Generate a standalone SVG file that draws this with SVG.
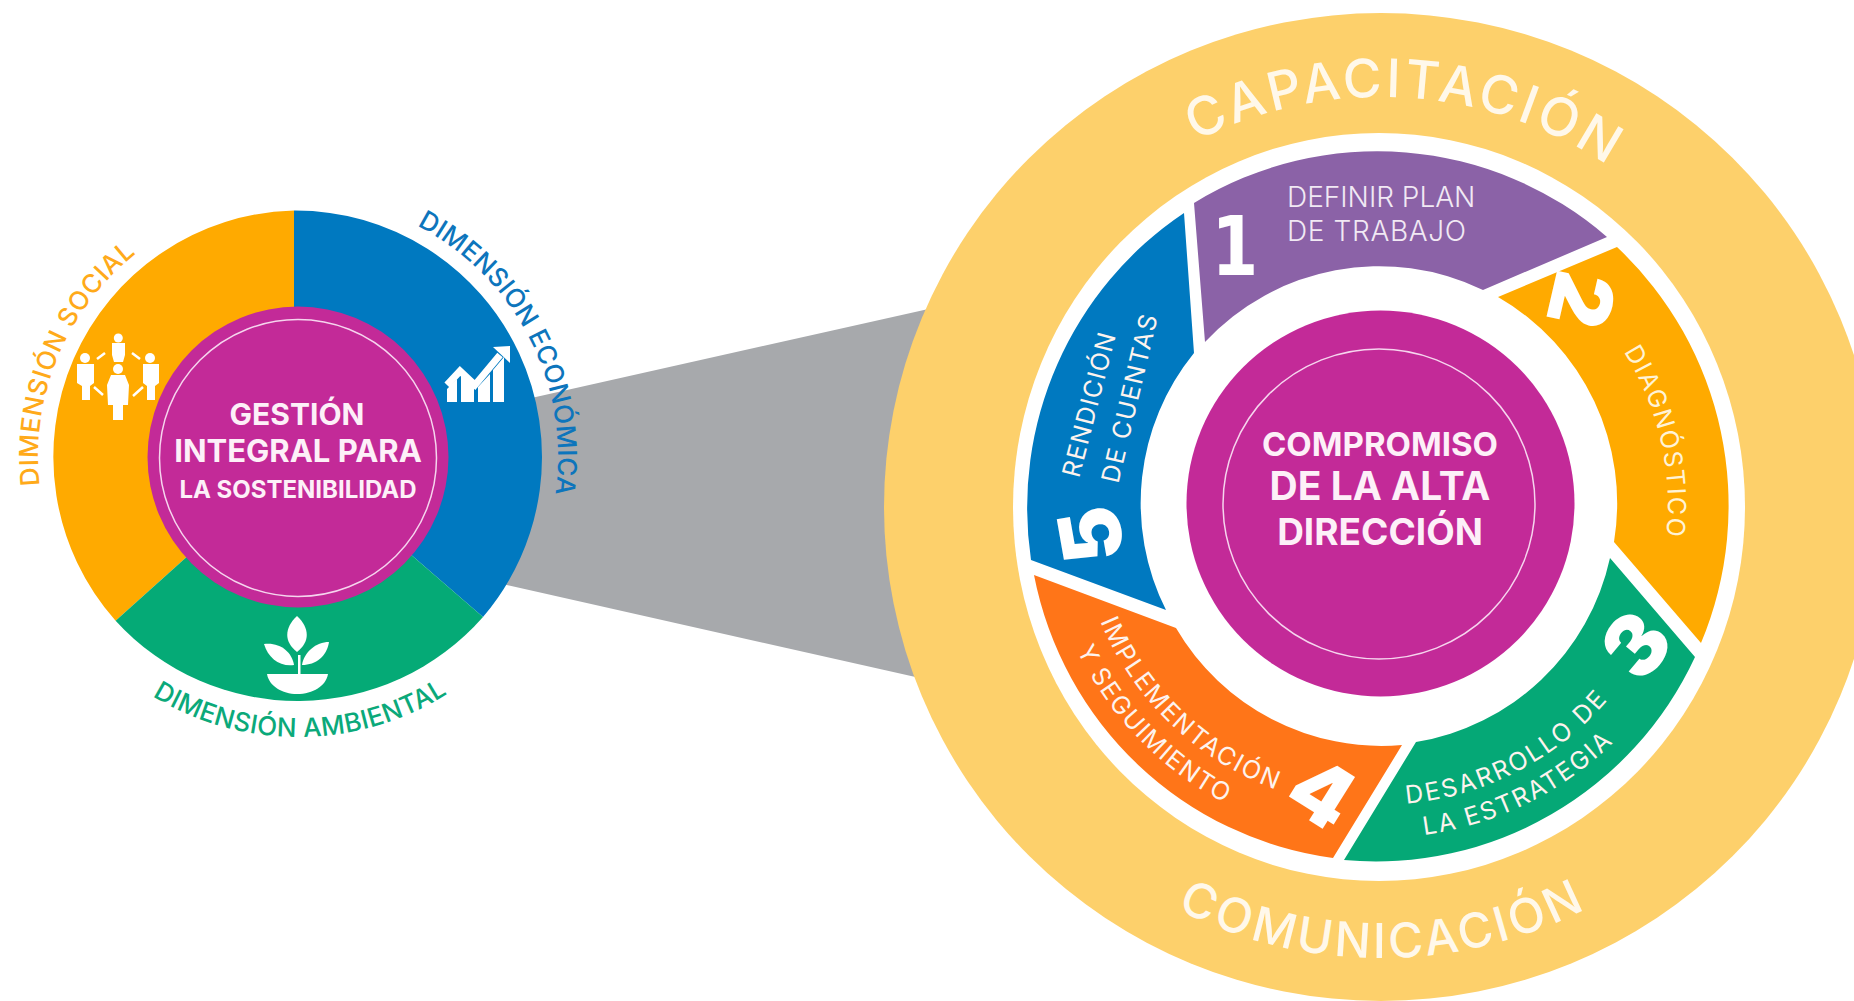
<svg xmlns="http://www.w3.org/2000/svg" width="1854" height="1001" viewBox="0 0 1854 1001">
<style>
text{font-family:Inter,"Open Sans","Liberation Sans",sans-serif;}
.b{font-weight:700;fill:#fdf0f8;text-anchor:middle;}
.l{font-weight:400;fill:#fdf3ee;font-size:25px;text-anchor:middle;}
.big{font-weight:500;fill:#fff8ea;text-anchor:middle;}
.dim{font-weight:500;font-size:26px;text-anchor:middle;}
.n{font-weight:900;fill:#fff;font-size:84px;text-anchor:middle;}
.ic{fill:#fff;}
</style>
<defs>
<path id="pCap" d="M971 507A410 410 0 0 1 1791 507"/>
<path id="pCom" d="M930 507A451 451 0 0 0 1832 507"/>
<path id="pL" d="M38 457A260 260 0 0 1 558 457"/>
<path id="pAmb" d="M18 457A280 280 0 0 0 578 457"/>
<path id="r303" d="M1077 505A303 303 0 0 0 1683 505"/>
<path id="r336" d="M1044 505A336 336 0 0 0 1716 505"/>
<path id="r300" d="M1080 505A300 300 0 0 0 1680 505"/>
<path id="r333" d="M1047 505A333 333 0 0 0 1713 505"/>
<path id="r288" d="M1092 505A288 288 0 0 1 1668 505"/>
<path id="pRen" d="M1079 479L1116 335"/>
<path id="pCue" d="M1118 485L1158 316"/>
</defs>
<rect width="1854" height="1001" fill="#fff"/>

<g id="funnel"><polygon points="500,405 1000,293 1000,696 480,579" fill="#a7a9ac"/></g>

<g id="outer-ring">
<ellipse cx="1381" cy="507" rx="497" ry="494" fill="#fdd06b"/>
<ellipse cx="1379" cy="507" rx="366" ry="374" fill="#fff"/>
<text class="big" font-size="53" transform="rotate(3.300 1381 507)"><textPath href="#pCap" startOffset="50%" textLength="432">CAPACITACIÓN</textPath></text>
<text class="big" font-size="48"><textPath href="#pCom" startOffset="50%" textLength="424">COMUNICACIÓN</textPath></text>
</g>

<g id="step-1">
<path d="M1194 203A352 354 0 0 1 1607 237L1483 290A238 238 0 0 0 1205 342Z" fill="#8b62a7"/>
<text transform="translate(1235 275) scale(.82 1)" fill="#fff" font-size="82" font-weight="700" text-anchor="middle" style="font-family:'DejaVu Sans',sans-serif">1</text>
<text x="1287" y="207" fill="#f1e9f4" font-size="28" font-weight="300">DEFINIR PLAN</text>
<text x="1287" y="241" fill="#f1e9f4" font-size="28" font-weight="300" textLength="179">DE TRABAJO</text>
</g>
<g id="step-2">
<path d="M1617 247A352 354 0 0 1 1701 643L1614 542A238 238 0 0 0 1498 297Z" fill="#ffaa00"/>
<text class="n" transform="translate(1581 300) rotate(103)" y="30">2</text>
<text class="l" style="fill:#fff3d6" transform="rotate(77 1380 505)"><textPath href="#r288" startOffset="50%" textLength="193">DIAGNÓSTICO</textPath></text>
</g>
<g id="step-3">
<path d="M1695 657A352 354 0 0 1 1344 860L1416 742A238 238 0 0 0 1610 558Z" fill="#05a876"/>
<text class="n" transform="translate(1636 645) rotate(-50)" y="30">3</text>
<text class="l" transform="rotate(-27.200 1380 505)"><textPath href="#r300" startOffset="50%" textLength="232">DESARROLLO DE</textPath></text>
<text class="l" transform="rotate(-26 1380 505)"><textPath href="#r333" startOffset="50%" textLength="214">LA ESTRATEGIA</textPath></text>
</g>
<g id="step-4">
<path d="M1333 858A352 354 0 0 1 1034 575L1176 628A238 238 0 0 0 1402 745Z" fill="#ff7518"/>
<text class="n" transform="translate(1322 793) rotate(32)" y="30">4</text>
<text class="l" transform="rotate(43.800 1380 505)"><textPath href="#r303" startOffset="50%" textLength="250">IMPLEMENTACIÓN</textPath></text>
<text class="l" transform="rotate(46 1380 505)"><textPath href="#r336" startOffset="50%" textLength="216">Y SEGUIMIENTO</textPath></text>
</g>
<g id="step-5">
<path d="M1031 560A352 354 0 0 1 1184 213L1194 353A238 238 0 0 0 1166 610Z" fill="#0079c0"/>
<text class="n" transform="translate(1091 535) rotate(-100)" y="30">5</text>
<text class="l"><textPath href="#pRen" startOffset="50%" textLength="148">RENDICIÓN</textPath></text>
<text class="l"><textPath href="#pCue" startOffset="50%" textLength="172">DE CUENTAS</textPath></text>
</g>
<g id="compromiso">
<ellipse cx="1380.500" cy="503.500" rx="194" ry="193" fill="#c32a98"/>
<ellipse cx="1379" cy="504" rx="156" ry="155" fill="none" stroke="#f6d5ee" stroke-width="1.500"/>
<text class="b" x="1380" y="456" font-size="33">COMPROMISO</text>
<text class="b" x="1380" y="500" font-size="39">DE LA ALTA</text>
<text class="b" x="1380" y="545" font-size="37">DIRECCIÓN</text>
</g>

<g id="dimensiones">
<path d="M294 210.500A246.500 246.500 0 0 0 115.600 620.700L298 457L294 457Z" fill="#ffaa00"/>
<path d="M294 210.500A246.500 246.500 0 0 1 483 617L298 457L294 457Z" fill="#0079c0"/>
<path d="M115.600 620.700A246.500 246.500 0 0 0 483 617L298 457Z" fill="#05aa76"/>
<text class="dim" fill="#ffaa1a" transform="rotate(-67.400 298 457)"><textPath href="#pL" startOffset="50%" textLength="262">DIMENSIÓN SOCIAL</textPath></text>
<text class="dim" fill="#0d75bc" transform="rotate(62.700 298 457)"><textPath href="#pL" startOffset="50%" textLength="322">DIMENSIÓN ECONÓMICA</textPath></text>
<text class="dim" fill="#0ba97a" transform="rotate(-0.500 298 457)"><textPath href="#pAmb" startOffset="50%" textLength="311">DIMENSIÓN AMBIENTAL</textPath></text>
</g>

<g id="icon-social" class="ic">
<circle cx="118.300" cy="338" r="4.500"/><path d="M112 343h13v12l-2 7h-9l-2-7z"/>
<circle cx="85" cy="358" r="5"/><path d="M77 364h17v19l-4 3v14h-8v-14l-5-3z"/>
<circle cx="150" cy="358" r="5"/><path d="M143 364h16v19l-4 3v14h-8v-14l-4-3z"/>
<circle cx="118" cy="369" r="5"/><path d="M111 375h14l4 10-1 20h-5v15h-10v-15h-5l-1-20z"/>
<path d="M97 359l8-6M140 359l-8-6M94 387l9 8M143 387l-10 9" stroke="#fff" stroke-width="2.500" fill="none"/>
</g>
<g id="icon-chart">
<path d="M447 385L460 371L475 385L500 355" fill="none" stroke="#fff" stroke-width="7"/>
<path d="M493 347L510 346L510 363Z" fill="#fff"/>
<path class="ic" d="M447 402V389L457 379V402ZM461 402V376L464 375L474 386V402ZM478 402V387L490 374V402ZM493 402V370L504 357V402Z"/>
</g>
<g id="icon-plant" class="ic">
<path d="M267 674H328C326 686 313 694 297 694C282 694 269 686 267 674Z"/>
<rect x="298" y="655" width="2.500" height="20"/>
<path d="M297 616C310 628 310 642 297 652C284 642 284 628 297 616Z"/>
<path d="M264 644C280 642 292 652 294 665C280 667 268 658 264 644Z"/>
<path d="M329 642C316 642 304 652 302 665C316 665 327 656 329 642Z"/>
</g>

<g id="gestion">
<circle cx="298" cy="457" r="150.500" fill="#c32a98"/>
<circle cx="298" cy="458" r="138.500" fill="none" stroke="#f6d5ee" stroke-width="1.500"/>
<text class="b" x="297" y="425" font-size="30">GESTIÓN</text>
<text class="b" x="298" y="462" font-size="31">INTEGRAL PARA</text>
<text class="b" x="298" y="498" font-size="24">LA SOSTENIBILIDAD</text>
</g>
</svg>
